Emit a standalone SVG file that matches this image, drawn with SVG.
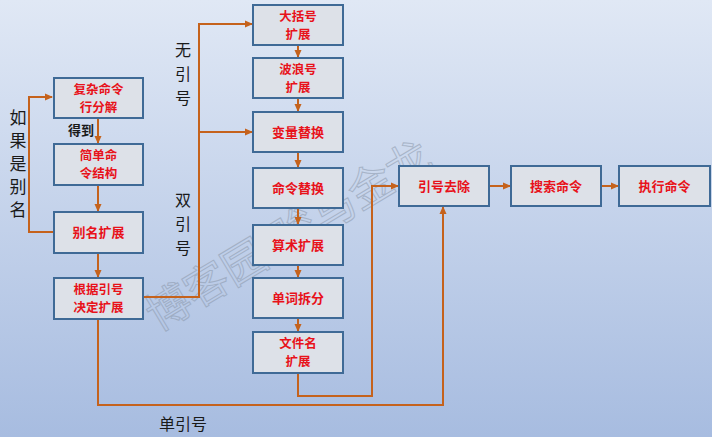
<svg xmlns="http://www.w3.org/2000/svg" width="712" height="437" viewBox="0 0 712 437">
<defs>
<linearGradient id="bg" x1="0" y1="0" x2="0" y2="1">
<stop offset="0" stop-color="#e0e8f5"/>
<stop offset="1" stop-color="#a7bce0"/>
</linearGradient>
<marker id="ah" markerWidth="8" markerHeight="8" refX="7" refY="4" orient="auto" markerUnits="userSpaceOnUse">
<path d="M0,0.5 L8,4 L0,7.5 z" fill="#c5621c"/>
</marker>
<style>
.box{fill:#dde1e8;stroke:#3f6a96;stroke-width:2}
.t{font-family:"Noto Sans CJK SC","Liberation Sans",sans-serif;font-size:13px;font-weight:bold;fill:#e8121a;text-anchor:middle}
.t2{font-size:12.5px}
.c{fill:none;stroke:#c5621c;stroke-width:2}
.lbl{font-family:"Noto Sans CJK SC","Liberation Sans",sans-serif;font-size:16px;fill:#1a1a1a;text-anchor:middle}
.wm{font-family:"Noto Sans CJK SC","Liberation Sans",sans-serif;font-size:44px;fill:none;stroke:#8a97aa;stroke-width:1;opacity:0.55}
</style>
</defs>
<rect width="712" height="437" fill="url(#bg)"/>
<text class="wm" transform="translate(158,332) rotate(-31)">博客园-骏马金龙</text>
<g id="connectors">
<path class="c" d="M54,232 H29 V97 H52" marker-end="url(#ah)"/>
<path class="c" d="M98,118 V143" marker-end="url(#ah)"/>
<path class="c" d="M98,185 V211" marker-end="url(#ah)"/>
<path class="c" d="M98,253 V277" marker-end="url(#ah)"/>
<path class="c" d="M143,297 H199 V24 H252" marker-end="url(#ah)"/>
<path class="c" d="M199,132 H252" marker-end="url(#ah)"/>
<path class="c" d="M98,319 V405 H443 V207" marker-end="url(#ah)"/>
<path class="c" d="M298,45 V57" marker-end="url(#ah)"/>
<path class="c" d="M298,98 V111" marker-end="url(#ah)"/>
<path class="c" d="M298,152 V167" marker-end="url(#ah)"/>
<path class="c" d="M298,208 V224" marker-end="url(#ah)"/>
<path class="c" d="M298,265 V277" marker-end="url(#ah)"/>
<path class="c" d="M298,318 V331" marker-end="url(#ah)"/>
<path class="c" d="M298,373 V396 H372 V186 H398" marker-end="url(#ah)"/>
<path class="c" d="M489,186 H510" marker-end="url(#ah)"/>
<path class="c" d="M601,186 H618" marker-end="url(#ah)"/>
</g>
<g id="labels">
<text class="lbl" style="font-size:17px"><tspan x="18" y="124">如</tspan><tspan x="18" y="147">果</tspan><tspan x="18" y="170">是</tspan><tspan x="18" y="193">别</tspan><tspan x="18" y="216">名</tspan></text>
<text class="lbl" style="font-size:13px;font-weight:bold;text-anchor:start" x="68" y="135">得到</text>
<text class="lbl"><tspan x="183" y="56">无</tspan><tspan x="183" y="80">引</tspan><tspan x="183" y="104">号</tspan></text>
<text class="lbl"><tspan x="183" y="206">双</tspan><tspan x="183" y="230">引</tspan><tspan x="183" y="254">号</tspan></text>
<text class="lbl" x="183" y="430">单引号</text>
</g>
<g id="n1"><rect class="box" x="54" y="78" width="89" height="40"/><text class="t t2"><tspan x="98.5" y="93.5">复杂命令</tspan><tspan x="98.5" y="111.5">行分解</tspan></text></g>
<g id="n2"><rect class="box" x="54" y="144" width="89" height="41"/><text class="t t2"><tspan x="98.5" y="160">简单命</tspan><tspan x="98.5" y="178">令结构</tspan></text></g>
<g id="n3"><rect class="box" x="54" y="212" width="89" height="41"/><text class="t" x="98.5" y="237">别名扩展</text></g>
<g id="n4"><rect class="box" x="54" y="278" width="89" height="41"/><text class="t t2"><tspan x="98.5" y="294">根据引号</tspan><tspan x="98.5" y="312">决定扩展</tspan></text></g>
<g id="n5"><rect class="box" x="253" y="5" width="90" height="40"/><text class="t t2"><tspan x="298" y="20.5">大括号</tspan><tspan x="298" y="38.5">扩展</tspan></text></g>
<g id="n6"><rect class="box" x="253" y="58" width="90" height="40"/><text class="t t2"><tspan x="298" y="73.5">波浪号</tspan><tspan x="298" y="91.5">扩展</tspan></text></g>
<g id="n7"><rect class="box" x="253" y="112" width="90" height="40"/><text class="t" x="298" y="137">变量替换</text></g>
<g id="n8"><rect class="box" x="253" y="168" width="90" height="40"/><text class="t" x="298" y="193">命令替换</text></g>
<g id="n9"><rect class="box" x="253" y="225" width="90" height="40"/><text class="t" x="298" y="250">算术扩展</text></g>
<g id="n10"><rect class="box" x="253" y="278" width="90" height="40"/><text class="t" x="298" y="303">单词拆分</text></g>
<g id="n11"><rect class="box" x="253" y="332" width="90" height="41"/><text class="t t2"><tspan x="298" y="348">文件名</tspan><tspan x="298" y="366">扩展</tspan></text></g>
<g id="n12"><rect class="box" x="399" y="166" width="90" height="40"/><text class="t" x="444" y="191">引号去除</text></g>
<g id="n13"><rect class="box" x="511" y="166" width="90" height="40"/><text class="t" x="556" y="191">搜索命令</text></g>
<g id="n14"><rect class="box" x="619" y="166" width="91" height="40"/><text class="t" x="664.5" y="191">执行命令</text></g>
</svg>
